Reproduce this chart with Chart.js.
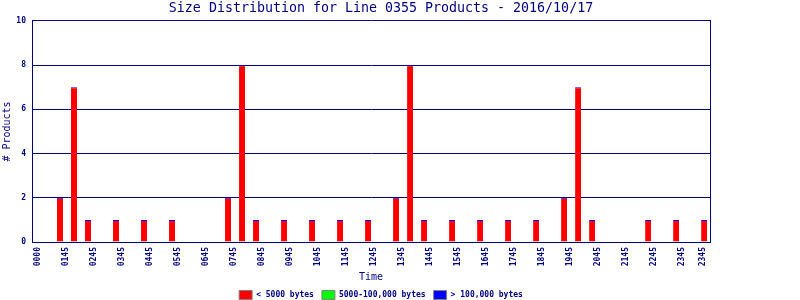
<!DOCTYPE html>
<html>
<head>
<meta charset="utf-8">
<title>Size Distribution for Line 0355 Products</title>
<script src="https://cdn.jsdelivr.net/npm/chart.js@4.4.1/dist/chart.umd.min.js"></script>
<style>
    html, body { margin: 0; padding: 0; background: #fff; overflow: hidden; }
    #wrap { width: 762px; height: 300px; }
</style>
</head>
<body>
<div id="wrap"><canvas id="myChart"></canvas></div>
<script>
// hora de cada barra (decimal) e contagem de produtos
const slotHours = [1.75, 2.25, 2.75, 3.75, 4.75, 5.75, 7.75, 8.25, 8.75, 9.75, 10.75, 11.75, 12.75,
                   13.75, 14.25, 14.75, 15.75, 16.75, 17.75, 18.75, 19.75, 20.25, 20.75, 22.75, 23.75, 24.75];
const smallCounts = [2, 7, 1, 1, 1, 1, 2, 8, 1, 1, 1, 1, 1, 2, 8, 1, 1, 1, 1, 1, 2, 7, 1, 1, 1, 1];
const mediumCounts = [0, 0, 0, 0, 0, 0, 0, 0, 0, 0, 0, 0, 0, 0, 0, 0, 0, 0, 0, 0, 0, 0, 0, 0, 0, 0];
const largeCounts = [0, 0, 0, 0, 0, 0, 0, 0, 0, 0, 0, 0, 0, 0, 0, 0, 0, 0, 0, 0, 0, 0, 0, 0, 0, 0];

const seriesNames = ['< 5000 bytes', '5000-100,000 bytes', '> 100,000 bytes'];

// rotulos do eixo x e onde ficam
const xTickHours = [0.75, 1.75, 2.75, 3.75, 4.75, 5.75, 6.75, 7.75, 8.75, 9.75, 10.75, 11.75, 12.75,
                    13.75, 14.75, 15.75, 16.75, 17.75, 18.75, 19.75, 20.75, 21.75, 22.75, 23.75, 24.5];
const xTickLabels = ['0000', '0145', '0245', '0345', '0445', '0545', '0645', '0745', '0845', '0945',
                     '1045', '1145', '1245', '1345', '1445', '1545', '1645', '1745', '1845', '1945',
                     '2045', '2145', '2245', '2345', '2345'];

const NAVY = '#000080';
const MONO = "'DejaVu Sans Mono', monospace";

function points(values) {
    return values.map((v, i) => ({ x: slotHours[i], y: v }));
}

const ctx = document.getElementById('myChart').getContext('2d');

const chart = new Chart(ctx, {
    type: 'bar',
    data: {
        datasets: [
            {
                label: seriesNames[0],
                data: points(smallCounts),
                backgroundColor: '#ff0000',
                borderColor: '#0000ff',
                borderWidth: { top: 1, right: 0, bottom: 0, left: 0 },
                borderSkipped: false,
                inflateAmount: 0,
                barThickness: 6
            },
            {
                label: seriesNames[1],
                data: points(mediumCounts),
                backgroundColor: '#00ff00',
                borderWidth: 0,
                inflateAmount: 0,
                barThickness: 6
            },
            {
                label: seriesNames[2],
                data: points(largeCounts),
                backgroundColor: '#0000ff',
                borderWidth: 0,
                inflateAmount: 0,
                barThickness: 6
            }
        ]
    },
    options: {
        responsive: true,
        maintainAspectRatio: false,
        animation: false,
        layout: { padding: 0 },
        plugins: {
            title: {
                display: true,
                text: 'Size Distribution for Line 0355 Products - 2016/10/17',
                color: NAVY,
                font: { family: MONO, size: 13.3, weight: 'normal' },
                padding: { top: 1, bottom: 4 }
            },
            legend: {
                position: 'bottom',
                maxHeight: 17.5,
                labels: {
                    color: NAVY,
                    font: { family: MONO, size: 8, weight: 'bold' },
                    boxWidth: 13,
                    boxHeight: 9,
                    padding: 8,
                    generateLabels: function(chart) {
                        const items = Chart.defaults.plugins.legend.labels.generateLabels(chart);
                        items.forEach(item => {
                            item.strokeStyle = '#808080';
                            item.lineWidth = 1;
                        });
                        return items;
                    }
                }
            },
            tooltip: { enabled: false }
        },
        scales: {
            x: {
                type: 'linear',
                stacked: true,
                offset: false,
                min: 0.75,
                max: 24.96,
                grid: { display: false, drawTicks: false },
                border: { color: NAVY, width: 1 },
                afterBuildTicks: function(scale) {
                    scale.ticks = xTickHours.map(h => ({ value: h }));
                },
                afterFit: function(scale) {
                    scale.height = 40.5;
                },
                ticks: {
                    autoSkip: false,
                    minRotation: 90,
                    maxRotation: 90,
                    padding: 5,
                    labelOffset: 6,
                    color: NAVY,
                    font: { family: MONO, size: 8, weight: 'bold' },
                    callback: function(value, index) {
                        return xTickLabels[index];
                    }
                },
                title: {
                    display: true,
                    text: 'Time',
                    color: NAVY,
                    font: { family: MONO, size: 10, weight: 'normal', lineHeight: 1 },
                    padding: { top: 4, bottom: 0 }
                }
            },
            y: {
                stacked: true,
                min: 0,
                max: 10,
                grid: { color: NAVY, lineWidth: 1, drawTicks: false },
                border: { color: NAVY, width: 1 },
                afterFit: function(scale) {
                    scale.width = 32;
                },
                ticks: {
                    stepSize: 2,
                    padding: 6,
                    color: NAVY,
                    font: { family: MONO, size: 8, weight: 'bold' }
                },
                title: {
                    display: true,
                    text: '# Products',
                    color: NAVY,
                    font: { family: MONO, size: 10, weight: 'normal' },
                    padding: { top: 1, bottom: 3 }
                }
            },
            // so para fechar o quadro do lado direito
            yRight: {
                position: 'right',
                display: true,
                grid: { display: false },
                border: { color: NAVY, width: 1 },
                ticks: { display: false },
                afterFit: function(scale) {
                    scale.width = 52;
                }
            }
        }
    }
});
</script>
</body>
</html>
